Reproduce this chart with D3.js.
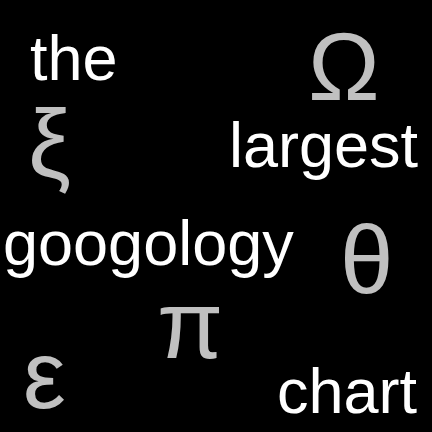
<!DOCTYPE html>
<html lang="en">
<head>
	<meta charset="UTF-8">
	<script src="https://cdn.jsdelivr.net/npm/d3@7"></script>
	<style>
		body { margin: 0; background: #000; overflow: hidden; }
		text { font-family: "Liberation Sans", Arial, sans-serif; }
	</style>
</head>
<body>
	<script>
		// words of the title cloud
		const words = ['the', 'largest', 'googology', 'chart'];
		const wordX = [30, 229, 3, 277];
		const wordY = [80, 167, 265, 413];

		// greek letters scattered round
		const symbols = ['Ω', 'ξ', 'θ', 'π', 'ε'];
		const symbolX = [308, 28, 340, 157, 23];
		const symbolY = [100, 177, 293, 358, 408];

		const width = 432, height = 432;

		const x = d3.scaleLinear().domain([0, 432]).range([0, width]);
		const y = d3.scaleLinear().domain([0, 432]).range([0, height]);

		const svg = d3.select('body')
			.append('svg')
			.attr('width', width)
			.attr('height', height)
			.style('display', 'block');

		svg.append('rect')
			.attr('width', width)
			.attr('height', height)
			.attr('fill', '#000');

		svg.selectAll('.symbol')
			.data(symbols)
			.enter()
			.append('text')
			.attr('class', 'symbol')
			.attr('x', (d, i) => x(symbolX[i]))
			.attr('y', (d, i) => y(symbolY[i]))
			.attr('font-size', 96)
			.attr('fill', '#c0c0c0')
			.text(d => d);

		svg.selectAll('.word')
			.data(words)
			.enter()
			.append('text')
			.attr('class', 'word')
			.attr('x', (d, i) => x(wordX[i]))
			.attr('y', (d, i) => y(wordY[i]))
			.attr('font-size', 63)
			.attr('fill', '#fff')
			.text(d => d);
	</script>
</body>
</html>
